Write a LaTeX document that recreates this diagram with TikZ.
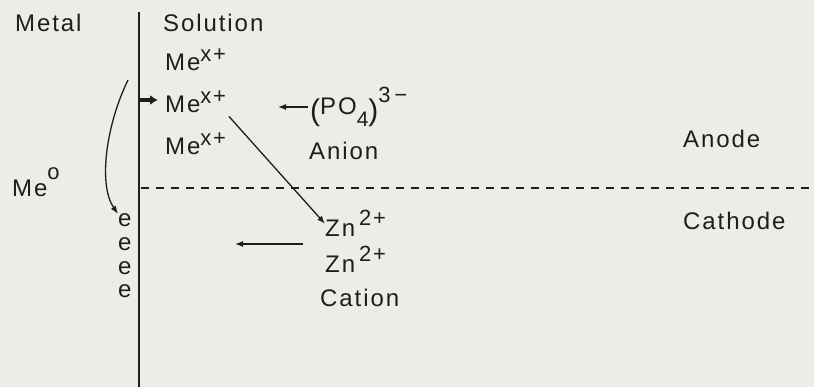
\documentclass[tikz,border=0pt]{standalone}
\usepackage{fontspec}
\setmainfont[LetterSpace=8]{Liberation Sans}
\usepackage{tikz}
\usetikzlibrary{positioning,arrows.meta}
\definecolor{paper}{RGB}{236,237,230}
\definecolor{ink}{RGB}{30,30,28}
% raised / lowered charge marks, drawn large as in the print
\newcommand{\chup}[2][10pt]{\raisebox{#1}{\fontsize{22}{22}\selectfont #2}}
\newcommand{\chdn}[2][-12pt]{\raisebox{#1}{\fontsize{21}{21}\selectfont #2}}
\newcommand{\bigpar}[1]{\raisebox{-6pt}{\fontsize{30}{30}\selectfont #1}}

\begin{document}
\begin{tikzpicture}[x=1pt,y=-1pt,
  every node/.style={font=\fontsize{24}{28}\selectfont,text=ink,inner sep=0pt},
  lbl/.style={anchor=base west},
  arrow/.style={-{Latex[length=8pt,width=6pt]},line width=1.3pt,draw=ink},
  fat/.style={-{Latex[length=8pt,width=10pt]},line width=4pt,draw=ink},
  wall/.style={line width=1.6pt,draw=ink},
  border/.style={dash pattern=on 8pt off 7pt,line width=1.6pt,draw=ink}
]
  \fill[paper] (0,0) rectangle (814,387);
  \useasboundingbox (0,0) rectangle (814,387);
  % interface metal | solution
  \coordinate (top) at (139,12);
  \coordinate (bot) at (139,387);
  \draw[wall] (top) -- (bot);
  \coordinate (dl) at (141,188);
  \coordinate (dr) at (814,188);
  \draw[border] (dl) -- (dr);

  \node[lbl] (metal) at (15,32) {Metal};
  \node[lbl] (sol) at (163,32) {Solution};
  \node[lbl] (me1) at (165,71) {Me\chup[9pt]{x+}};
  \node[lbl] (me2) at (165,113) {Me\chup[9pt]{x+}};
  \node[lbl] (me3) at (165,155) {Me\chup[9pt]{x+}};
  \node[lbl] (meo) at (12,197) {Me\chup[17pt]{o}};
  \node[lbl] (po) at (310,115) {\bigpar{(}PO\chdn{4}\bigpar{)}\chup[12pt]{3\,−}};
  \node[lbl] (anion) at (309,160) {Anion};
  \node[lbl] (anode) at (683,148) {Anode};
  \node[lbl] (cathode) at (683,230) {Cathode};
  \node[lbl] (zn1) at (325,237) {Zn\,\chup[11pt]{2+}};
  \node[lbl] (zn2) at (325,273) {Zn\,\chup[11pt]{2+}};
  \node[lbl] (cation) at (320,307) {Cation};
  % electrons
  \node[lbl] (e1) at (118,227) {e};
  \node[lbl] (e2) at (118,251) {e};
  \node[lbl] (e3) at (118,275) {e};
  \node[lbl] (e4) at (118,298) {e};

  % transfer arrows
  \coordinate (ifc) at (139,100);
  \draw[fat,shorten >=7pt] (ifc) -- (me2.west |- ifc);
  \coordinate (cs) at (128,80);
  \draw[arrow] (cs) .. controls (106,125) and (98,185) .. (e1.north west);
  \draw[arrow,shorten <=4pt] (me2.south east) -- (zn1.west);
  \coordinate (pa) at (278,107);
  \draw[arrow,shorten <=2pt] (po.west |- pa) -- (pa);
  \coordinate (la) at (303,244);
  \coordinate (lb) at (235,244);
  \draw[arrow] (la) -- (lb);
\end{tikzpicture}
\end{document}
